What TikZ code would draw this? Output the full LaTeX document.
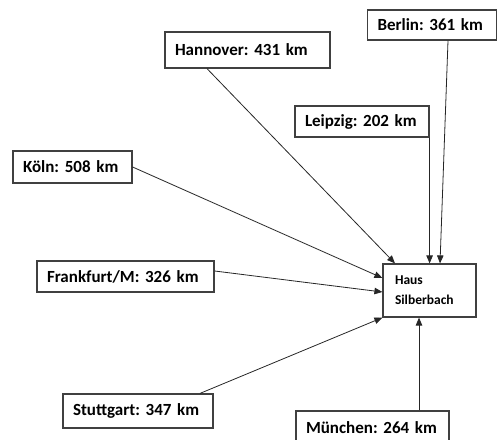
\documentclass[tikz,border=0pt]{standalone}
\usepackage{fontspec}
\setmainfont{Carlito}
\usetikzlibrary{arrows.meta}

\begin{document}
\begin{tikzpicture}[x=1pt,y=-1pt,
	city/.style={draw=black!75,line width=1.2pt,inner xsep=10pt,inner ysep=0pt,align=left,font=\fontsize{17}{21}\selectfont\bfseries\frenchspacing},
	route/.style={draw=black!85,line width=0.8pt,-{Triangle[length=8pt,width=6.5pt]}}]
	\useasboundingbox (0,0) rectangle (497,439);
	\node[city,text width=109pt,minimum height=30pt] (berlin) at (432,25) {Berlin: 361~km};
	\node[city,text width=145pt,minimum height=36pt] (hannover) at (247.5,50) {Hannover: 431~km};
	\node[city,text width=114pt,minimum height=31pt] (leipzig) at (362,121.5) {Leipzig: 202~km};
	\node[city,text width=99pt,minimum height=32pt] (koeln) at (72.5,167) {Köln: 508~km};
	\node[city,text width=157pt,minimum height=31pt] (frankfurt) at (125.5,276.5) {Frankfurt/M: 326~km};
	\node[city,text width=130pt,minimum height=34pt] (stuttgart) at (138,411) {Stuttgart: 347~km};
	\node[city,text width=133pt,minimum height=33pt] (muenchen) at (372.5,427.5) {München: 264~km};
	\node[city,inner xsep=12pt,text width=69pt,minimum height=53pt,font=\fontsize{13.5}{20}\selectfont\bfseries] (haus) at (429.5,290.5) {Haus\\Silberbach};

	\draw [route] ([xshift=-40.5pt]hannover.south) -- ([xshift=-34.5pt]haus.north);
	\draw [route] ([xshift=16pt]berlin.south) -- ([xshift=10.5pt]haus.north);
	\draw [route] (leipzig.south east) -- (leipzig.south east |- haus.north);
	\draw [route] (koeln.east) -- ([yshift=12.5pt]haus.west);
	\draw [route] ([yshift=5.5pt]frankfurt.east) -- ([yshift=-1.5pt]haus.west);
	\draw [route] ([xshift=62pt]stuttgart.north) -- (haus.south west);
	\draw [route] ([xshift=46.5pt]muenchen.north) -- ([xshift=-10.5pt]haus.south);
\end{tikzpicture}
\end{document}
